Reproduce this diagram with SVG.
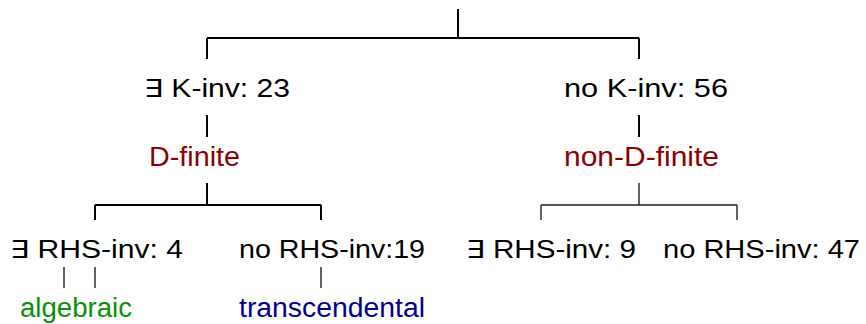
<svg xmlns="http://www.w3.org/2000/svg" width="866" height="324" viewBox="0 0 866 324">
<style>
.t{font-family:"Liberation Sans","DejaVu Sans",sans-serif;font-size:25px;fill:#000}
.b{font-size:27px}
.red{fill:#8b0000}
.grn{fill:#0a900a}
.blu{fill:#000090}
.c{stroke:#000;stroke-width:2;fill:none}
.thin{stroke:#222;stroke-width:1.4}
</style>
<rect width="866" height="324" fill="#fff"/>
<g id="connectors">
<path class="c" d="M458,9V38M207,38H639M207,38V59M639,38V59"/>
<path class="c" d="M207,115V137M639,115V137"/>
<path class="c" d="M207,183V205M95,205H321M95,205V220M321,205V220"/>
<path class="c thin" d="M639,183V205M541,205H737M541,205V220M737,205V220"/>
<path class="c thin" d="M64,267V288M95,267V288M321,267V288"/>
</g>
<g id="kinv"><text class="t" x="144" y="97" textLength="146" lengthAdjust="spacingAndGlyphs">∃ K-inv:  23</text></g>
<g id="nokinv"><text class="t" x="564" y="97" textLength="164" lengthAdjust="spacingAndGlyphs">no K-inv: 56</text></g>
<g id="dfinite"><text class="t b red" x="149" y="166" textLength="91" lengthAdjust="spacingAndGlyphs">D-finite</text></g>
<g id="nondfinite"><text class="t b red" x="564" y="166" textLength="155" lengthAdjust="spacingAndGlyphs">non-D-finite</text></g>
<g id="rhs4"><text class="t" x="10" y="258" textLength="173" lengthAdjust="spacingAndGlyphs">∃ RHS-inv: 4</text></g>
<g id="norhs19"><text class="t" x="239" y="258" textLength="186" lengthAdjust="spacingAndGlyphs">no RHS-inv:19</text></g>
<g id="rhs9"><text class="t" x="466" y="258" textLength="170" lengthAdjust="spacingAndGlyphs">∃ RHS-inv: 9</text></g>
<g id="norhs47"><text class="t" x="663" y="258" textLength="197" lengthAdjust="spacingAndGlyphs">no RHS-inv: 47</text></g>
<g id="algebraic"><text class="t b grn" x="20" y="317" textLength="112" lengthAdjust="spacingAndGlyphs">algebraic</text></g>
<g id="transcendental"><text class="t b blu" x="239" y="317" textLength="186" lengthAdjust="spacingAndGlyphs">transcendental</text></g>
</svg>
